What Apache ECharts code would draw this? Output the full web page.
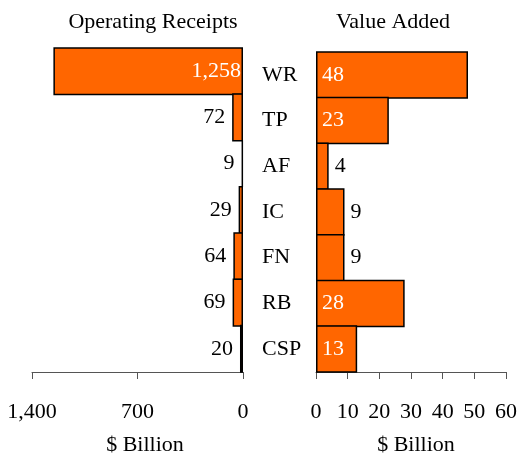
<!DOCTYPE html>
<html><head><meta charset="utf-8">
<script src="https://cdn.jsdelivr.net/npm/echarts@6/dist/echarts.min.js"></script>
<style>html,body{margin:0;padding:0;background:#fff}#c{width:519px;height:455px}</style>
</head><body><div id="c"></div>
<script>
const categories = ['WR','TP','AF','IC','FN','RB','CSP'];
const operatingReceipts = [1258, 72, 9, 29, 64, 69, 20];
const valueAdded = [48, 23, 4, 9, 9, 28, 13];
const leftTicks = [0, 700, 1400];
const rightTicks = [0, 10, 20, 30, 40, 50, 60];

const FONT = '"Liberation Serif", "Times New Roman", serif';
const ORANGE = '#FF6600';
const fmt = v => v.toLocaleString('en-US');

const leftData = operatingReceipts.map(v => {
  const inside = v > 500;
  return { value: v, label: {
    position: inside ? 'insideRight' : 'left',
    color: inside ? '#fff' : '#000',
    distance: inside ? 2 : 7
  }};
});
const rightData = valueAdded.map(v => {
  const inside = v > 10;
  return { value: v, label: {
    position: inside ? 'insideLeft' : 'right',
    color: inside ? '#fff' : '#000',
    distance: 6
  }};
});

const chart = echarts.init(document.getElementById('c'), null, {renderer: 'canvas'});
const axisCommon = {
  type: 'value',
  axisLine: { show: true, lineStyle: { color: '#555', width: 1 } },
  axisTick: { show: true, length: 7, lineStyle: { color: '#555' } },
  splitLine: { show: false },
  axisLabel: { fontFamily: FONT, fontSize: 22, color: '#000', margin: 29, formatter: fmt },
  name: '$ Billion', nameLocation: 'middle', nameGap: 62
};
chart.setOption({
  animation: false,
  title: [
    { text: 'Operating Receipts', left: 148, top: 6, textAlign: 'center',
      textStyle: { fontFamily: FONT, fontSize: 22, fontWeight: 'normal', color: '#000' } },
    { text: 'Value Added', left: 388, top: 6, textAlign: 'center',
      textStyle: { fontFamily: FONT, fontSize: 22, fontWeight: 'normal', color: '#000' } }
  ],
  grid: [
    { left: 32, width: 211, top: 48, height: 324, containLabel: false, outerBoundsMode: 'none' },
    { left: 316, width: 190, top: 52, height: 320, containLabel: false, outerBoundsMode: 'none' }
  ],
  xAxis: [
    Object.assign({}, axisCommon, { gridIndex: 0, min: leftTicks[0], max: leftTicks[leftTicks.length-1], interval: 700, inverse: true,
      nameTextStyle: { fontFamily: FONT, fontSize: 22, color: '#000', padding: [0, 0, 0, 15] } }),
    Object.assign({}, axisCommon, { gridIndex: 1, min: rightTicks[0], max: rightTicks[rightTicks.length-1], interval: 10,
      nameTextStyle: { fontFamily: FONT, fontSize: 22, color: '#000', padding: [0, 0, 0, 10] } })
  ],
  yAxis: [
    { type: 'category', gridIndex: 0, data: categories, inverse: true, show: false },
    { type: 'category', gridIndex: 1, data: categories, inverse: true,
      axisLine: { show: false }, axisTick: { show: false },
      axisLabel: { fontFamily: FONT, fontSize: 22, color: '#000', align: 'left', margin: 54 } }
  ],
  series: [
    { type: 'bar', xAxisIndex: 0, yAxisIndex: 0, data: leftData, barWidth: '104%',
      itemStyle: { color: ORANGE, borderColor: '#000', borderWidth: 1.5 },
      label: { show: true, fontFamily: FONT, fontSize: 22, formatter: p => fmt(p.value) } },
    { type: 'bar', xAxisIndex: 1, yAxisIndex: 1, data: rightData, barWidth: '104%',
      itemStyle: { color: ORANGE, borderColor: '#000', borderWidth: 1.5 },
      label: { show: true, fontFamily: FONT, fontSize: 22, formatter: p => fmt(p.value) } }
  ]
});
</script></body></html>
